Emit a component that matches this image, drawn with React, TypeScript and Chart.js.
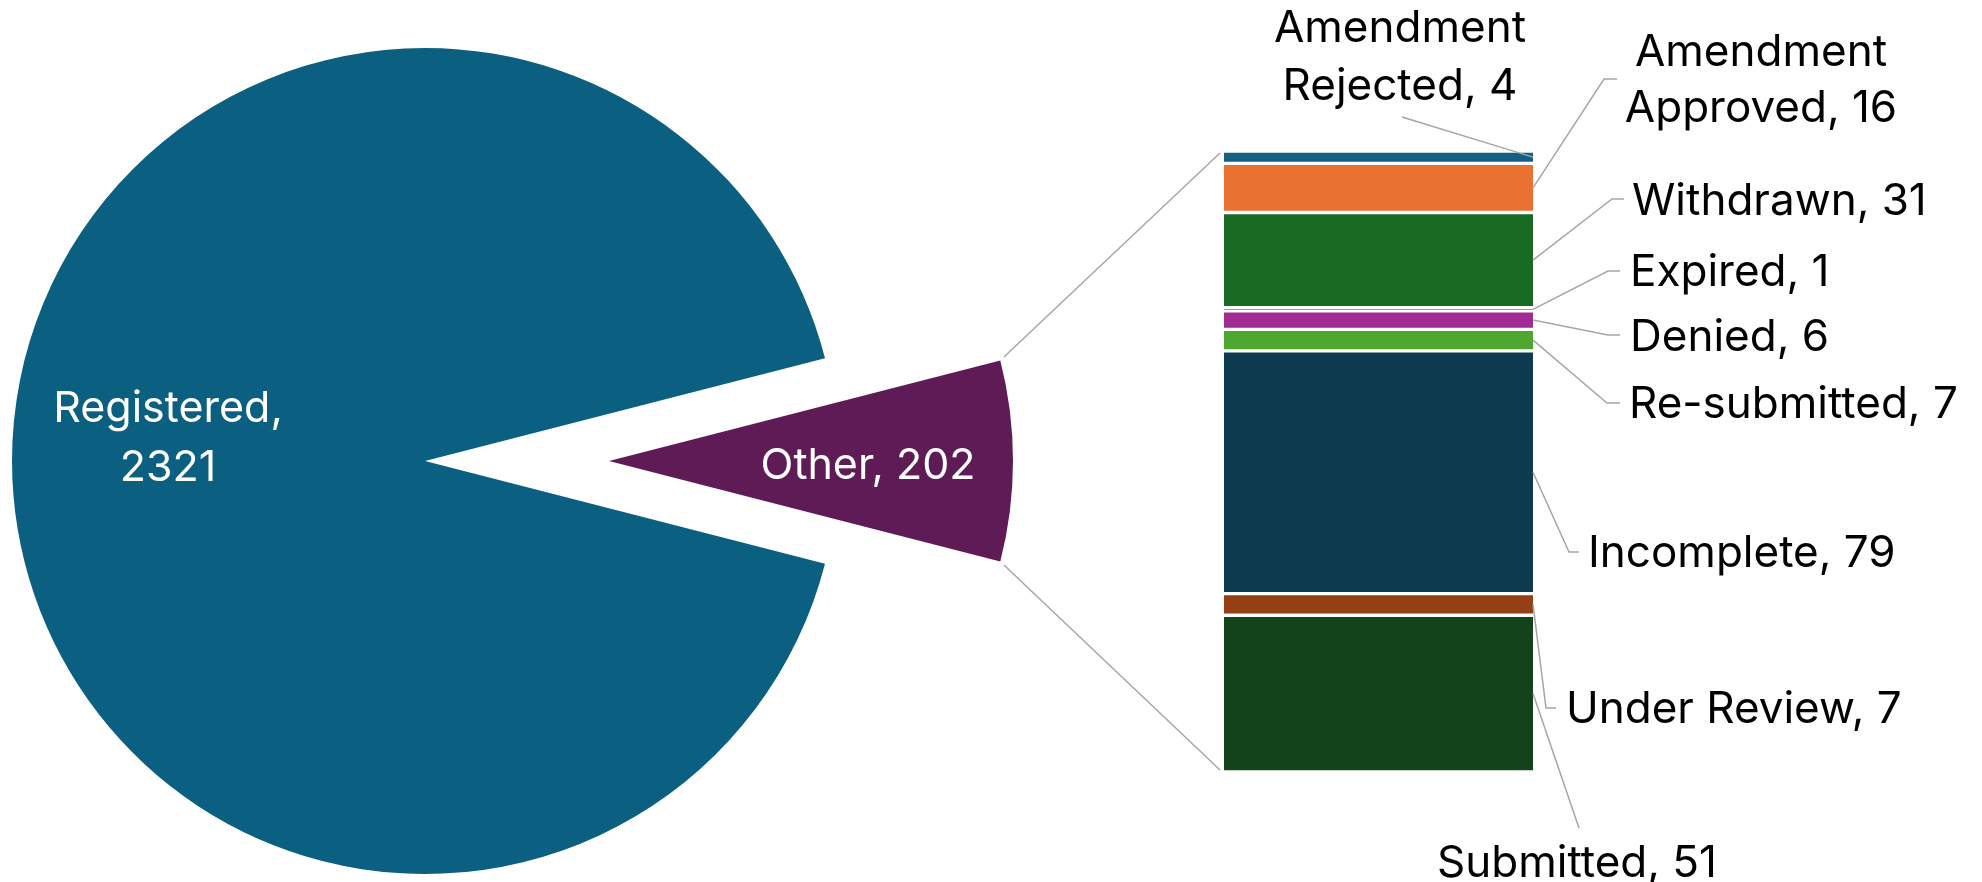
import React, { useEffect, useRef } from 'react';
import { Chart, registerables } from 'chart.js';

Chart.register(...registerables);

// ---------- data ----------
const pieLabels = ['Registered', 'Other'];
const pieValues = [2321, 202];
const pieColors = ['#0B5F80', '#5F1B55'];

const barLabels = [
  'Amendment Rejected',
  'Amendment Approved',
  'Withdrawn',
  'Expired',
  'Denied',
  'Re-submitted',
  'Incomplete',
  'Under Review',
  'Submitted',
];
const barValues = [4, 16, 31, 1, 6, 7, 79, 7, 51];
const barColors = [
  '#156082',
  '#E97132',
  '#196B24',
  '#0F9ED5',
  '#A02B93',
  '#4EA72E',
  '#0E3A4F',
  '#953F14',
  '#12431A',
];

// ---------- layout / style ----------
const W = 1982;
const H = 882;
const PIE_FONT = '43px Inter';
const BAR_FONT = '44px Inter';
const LINE_GRAY = '#A6A6A6';
const PIE_CX = 425;
const PIE_CY = 461;
const PIE_RADIUS = 413;
const OTHER_RADIUS = 404;
const EXPLODE = 184;
const BAR_LEFT = 1224;
const BAR_RIGHT = 1533;
const BAR_TOP = 151;
const BAR_BOTTOM = 772;

// label placement for pie slices (relative to slice centre)
const pieLabelLayout = [
  { wrap: 'comma', dx: -257, baselines: [-39, 20], align: 'center' },
  { wrap: null, dx: 259, baselines: [18], align: 'center' },
];

// label placement for bar segments (absolute positions, elbow points)
const barLabelLayout: any[] = [
  { wrap: 'space', x: 1400, baselines: [42, 100], align: 'center', elbow: [[1402, 117]] },
  { wrap: 'space', x: 1761, baselines: [66, 122], align: 'center', elbow: [[1604, 79], [1617, 79]] },
  { wrap: null, x: 1632, baselines: [215], align: 'left', elbow: [[1612, 199], [1624, 199]] },
  { wrap: null, x: 1630, baselines: [286], align: 'left', elbow: [[1608, 271], [1620, 271]] },
  { wrap: null, x: 1630, baselines: [351], align: 'left', elbow: [[1608, 335], [1620, 335]] },
  { wrap: null, x: 1629, baselines: [418], align: 'left', elbow: [[1607, 403], [1620, 403]] },
  { wrap: null, x: 1588, baselines: [567], align: 'left', elbow: [[1569, 552], [1579, 552]] },
  { wrap: null, x: 1566, baselines: [723], align: 'left', elbow: [[1546, 708], [1556, 708]] },
  { wrap: null, x: 1577, baselines: [877], align: 'center', elbow: [[1579, 828]] },
];

function labelLines(name: string, value: number, wrap: string | null): string[] {
  if (wrap === 'comma') return [`${name},`, `${value}`];
  if (wrap === 'space') {
    const i = name.indexOf(' ');
    return [name.slice(0, i), `${name.slice(i + 1)}, ${value}`];
  }
  return [`${name}, ${value}`];
}

export default function App() {
  const pieRef = useRef<HTMLCanvasElement>(null);
  const barRef = useRef<HTMLCanvasElement>(null);

  useEffect(() => {
    const total = pieValues.reduce((a, b) => a + b, 0);
    const otherFrac = pieValues[1] / total;
    const otherTotal = barValues.reduce((a, b) => a + b, 0);

    const explodePlugin = {
      id: 'explodeOther',
      afterDatasetsUpdate(chart: any) {
        const el: any = chart.getDatasetMeta(0).data[1];
        const mid = (el.startAngle + el.endAngle) / 2;
        el.x = el.x + Math.cos(mid) * EXPLODE;
        el.y = el.y + Math.sin(mid) * EXPLODE;
        el.outerRadius = OTHER_RADIUS;
      },
    };

    const pieLabelPlugin = {
      id: 'pieLabels',
      afterDatasetsDraw(chart: any) {
        const ctx = chart.ctx;
        const meta = chart.getDatasetMeta(0);
        ctx.save();
        ctx.font = PIE_FONT;
        ctx.fillStyle = '#FFFFFF';
        ctx.textBaseline = 'alphabetic';
        meta.data.forEach((el: any, i: number) => {
          const lay = pieLabelLayout[i];
          const lines = labelLines(pieLabels[i], pieValues[i], lay.wrap);
          ctx.textAlign = lay.align;
          lines.forEach((t, j) => ctx.fillText(t, el.x + lay.dx, el.y + lay.baselines[j]));
        });
        ctx.restore();
      },
    };

    const pie = new Chart(pieRef.current as HTMLCanvasElement, {
      type: 'pie',
      data: {
        labels: pieLabels,
        datasets: [
          {
            data: pieValues,
            backgroundColor: pieColors,
            borderWidth: 0,
            clip: false,
          } as any,
        ],
      },
      options: {
        responsive: false,
        animation: false,
        devicePixelRatio: 1,
        events: [],
        rotation: 90 + otherFrac * 180,
        radius: PIE_RADIUS,
        layout: { padding: { left: 0, right: W - 2 * PIE_CX, top: 2 * PIE_CY - H, bottom: 0 } },
        plugins: { legend: { display: false }, tooltip: { enabled: false } },
      } as any,
      plugins: [explodePlugin, pieLabelPlugin],
    });

    const barDecorPlugin = {
      id: 'barDecor',
      afterDatasetsDraw(chart: any) {
        const ctx = chart.ctx;
        ctx.save();
        ctx.strokeStyle = LINE_GRAY;
        ctx.lineWidth = 1.5;

        // connectors from exploded slice to the bar
        const arc: any = pie.getDatasetMeta(0).data[1];
        const first: any = chart.getDatasetMeta(0).data[0];
        const last: any = chart.getDatasetMeta(barValues.length - 1).data[0];
        const barL = first.x - first.width / 2;
        const barTop = Math.min(first.y, first.base);
        const barBot = Math.max(last.y, last.base);
        const ends = [
          { a: arc.startAngle, tx: barL - 4, ty: barTop + 2 },
          { a: arc.endAngle, tx: barL - 4, ty: barBot - 2 },
        ];
        ends.forEach((e) => {
          const sx = arc.x + arc.outerRadius * Math.cos(e.a);
          const sy = arc.y + arc.outerRadius * Math.sin(e.a);
          const dx = e.tx - sx;
          const dy = e.ty - sy;
          const len = Math.hypot(dx, dy);
          ctx.beginPath();
          ctx.moveTo(sx + (dx / len) * 5, sy + (dy / len) * 5);
          ctx.lineTo(e.tx, e.ty);
          ctx.stroke();
        });

        // leader lines
        barValues.forEach((v, i) => {
          const el: any = chart.getDatasetMeta(i).data[0];
          const rx = el.x + el.width / 2;
          const my = (el.y + el.base) / 2;
          const lay = barLabelLayout[i];
          ctx.beginPath();
          ctx.moveTo(rx, my);
          lay.elbow.forEach((p: number[]) => ctx.lineTo(p[0], p[1]));
          ctx.stroke();
        });

        // labels
        ctx.font = BAR_FONT;
        ctx.fillStyle = '#000000';
        ctx.textBaseline = 'alphabetic';
        barValues.forEach((v, i) => {
          const lay = barLabelLayout[i];
          ctx.textAlign = lay.align;
          labelLines(barLabels[i], v, lay.wrap).forEach((t, j) =>
            ctx.fillText(t, lay.x, lay.baselines[j])
          );
        });
        ctx.restore();
      },
    };

    const bar = new Chart(barRef.current as HTMLCanvasElement, {
      type: 'bar',
      data: {
        labels: ['Other'],
        datasets: barLabels.map((l, i) => ({
          label: l,
          data: [barValues[i]],
          backgroundColor: barColors[i],
          borderColor: '#FFFFFF',
          borderWidth: { top: 2, bottom: 2, left: 0, right: 0 },
          borderSkipped: false,
          barPercentage: 1,
          categoryPercentage: 1,
          stack: 'other',
        })) as any,
      },
      options: {
        responsive: false,
        animation: false,
        devicePixelRatio: 1,
        events: [],
        layout: {
          padding: { left: BAR_LEFT, right: W - BAR_RIGHT, top: BAR_TOP, bottom: H - BAR_BOTTOM },
        },
        scales: {
          x: { display: false, stacked: true },
          y: { display: false, stacked: true, min: 0, max: otherTotal, reverse: true },
        },
        plugins: { legend: { display: false }, tooltip: { enabled: false } },
      } as any,
      plugins: [barDecorPlugin],
    });

    return () => {
      bar.destroy();
      pie.destroy();
    };
  }, []);

  return (
    <div
      style={{
        position: 'fixed',
        left: 0,
        top: 0,
        width: W,
        height: H,
        background: '#FFFFFF',
        overflow: 'hidden',
      }}
    >
      <canvas
        ref={pieRef}
        width={W}
        height={H}
        style={{ position: 'absolute', left: 0, top: 0, width: W, height: H }}
      />
      <canvas
        ref={barRef}
        width={W}
        height={H}
        style={{ position: 'absolute', left: 0, top: 0, width: W, height: H }}
      />
    </div>
  );
}
